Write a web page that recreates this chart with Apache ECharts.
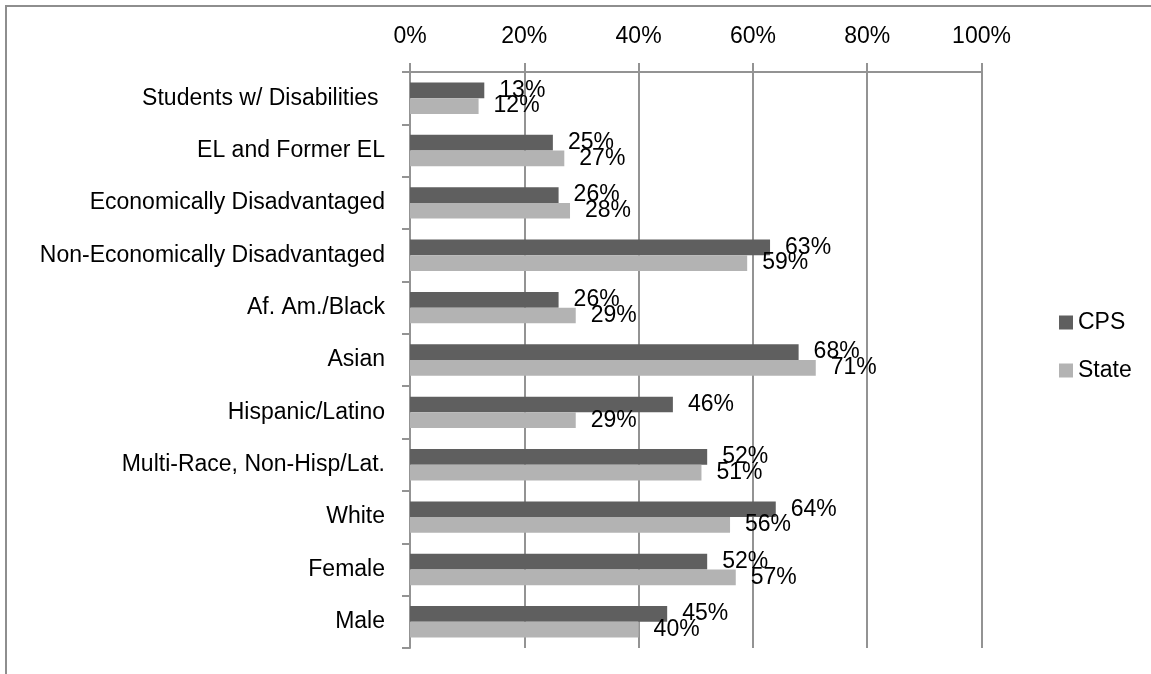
<!DOCTYPE html>
<html>
<head>
    <meta charset="UTF-8"/>
    <script type="text/javascript" src="https://cdn.jsdelivr.net/npm/echarts@6/dist/echarts.min.js"></script>
    <style>
        html, body { margin: 0; padding: 0; background: #fff; }
        #main { width: 1151px; height: 674px; }
    </style>
</head>
<body>
<div id="main"></div>
<script type="text/javascript">
    // categories, top to bottom
    var categories = ['Students w/ Disabilities ', 'EL and Former EL', 'Economically Disadvantaged',
        'Non-Economically Disadvantaged', 'Af. Am./Black', 'Asian', 'Hispanic/Latino',
        'Multi-Race, Non-Hisp/Lat.', 'White', 'Female', 'Male'];
    var cpsValues = [13, 25, 26, 63, 26, 68, 46, 52, 64, 52, 45];
    var stateValues = [12, 27, 28, 59, 29, 71, 29, 51, 56, 57, 40];
    var seriesNames = ['CPS', 'State'];

    var font = 'Liberation Sans';
    var fontSize = 23;
    var lineColor = '#939393';

    var myChart = echarts.init(document.getElementById('main'));

    function barSeries(name, data, color) {
        return {
            name: name,
            type: 'bar',
            data: data,
            barGap: 0,
            barCategoryGap: '40%',
            itemStyle: { color: color },
            label: {
                show: true,
                position: 'right',
                distance: 15,
                formatter: '{c}%',
                color: '#000',
                fontFamily: font,
                fontSize: fontSize
            }
        }
    }

    var option = {
        animation: false,
        graphic: [{
            type: 'rect',
            shape: { x: 6, y: 6, width: 1300, height: 800 },
            style: { fill: 'none', stroke: '#8e8e8e', lineWidth: 2 }
        }],
        grid: { left: 410, right: 169.5, top: 72, bottom: 26, containLabel: false },
        legend: {
            data: seriesNames,
            orient: 'vertical',
            left: 1054,
            top: 306,
            icon: 'rect',
            itemWidth: 14,
            itemHeight: 14,
            itemGap: 25,
            textStyle: { fontFamily: font, fontSize: fontSize, color: '#000' }
        },
        xAxis: {
            type: 'value',
            position: 'top',
            min: 0,
            max: 100,
            interval: 20,
            axisLine: { show: true, lineStyle: { color: lineColor, width: 2 } },
            axisTick: { show: true, length: 9, lineStyle: { color: lineColor, width: 2 } },
            splitLine: { show: true, lineStyle: { color: lineColor, width: 2 } },
            axisLabel: { formatter: '{value}%', margin: 24, color: '#000', fontFamily: font, fontSize: fontSize }
        },
        yAxis: {
            type: 'category',
            data: categories,
            inverse: true,
            axisLine: { show: true, lineStyle: { color: lineColor, width: 2 } },
            axisTick: { show: true, length: 8, lineStyle: { color: lineColor, width: 2 } },
            axisLabel: { margin: 25, color: '#000', fontFamily: font, fontSize: fontSize }
        },
        series: [
            barSeries(seriesNames[0], cpsValues, '#5f5f5f'),
            barSeries(seriesNames[1], stateValues, '#b3b3b3')
        ]
    };
    myChart.setOption(option);
</script>
</body>
</html>
